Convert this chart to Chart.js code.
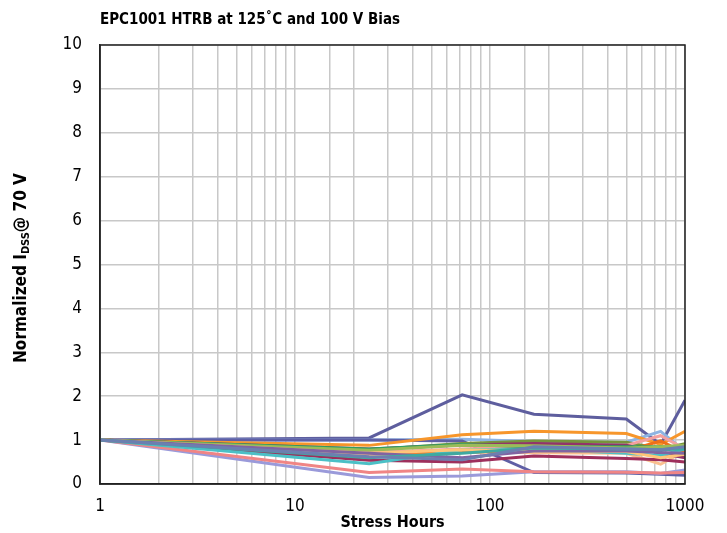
<!DOCTYPE html>
<html>
<head>
<meta charset="utf-8">
<script src="https://cdn.jsdelivr.net/npm/chart.js@4"></script>
<style>
  body { margin: 0; background: #fff; }
  #wrap { width: 727px; height: 533px; }
</style>
</head>
<body>
<div id="wrap"><canvas id="myChart" width="727" height="533"></canvas></div>
<script>
(() => {
    'use strict'

    const FONT = "'DejaVu Sans Condensed', 'Liberation Sans Narrow', sans-serif"

    // stress hours (x) and normalized IDSS per part
    const hours = [1, 24, 72, 168, 500, 750, 1000]
    const yTicks = [0, 1, 2, 3, 4, 5, 6, 7, 8, 9, 10]

    const part01 = [1, 1.05, 2.03, 1.59, 1.48, 0.90, 1.91]
    const part02 = [1, 1.00, 0.98, 0.26, 0.25, 0.22, 0.20]
    const part03 = [1, 0.88, 1.12, 1.20, 1.15, 0.90, 1.20]
    const part04 = [1, 0.78, 0.92, 0.98, 0.95, 0.80, 0.92]
    const part05 = [1, 0.80, 0.90, 0.85, 0.85, 0.85, 0.85]
    const part06 = [1, 0.80, 0.89, 0.92, 0.88, 0.70, 0.60]
    const part07 = [1, 0.54, 0.50, 0.64, 0.58, 0.55, 0.50]
    const part08 = [1, 0.73, 0.72, 0.78, 0.75, 0.98, 0.70]
    const part09 = [1, 0.66, 0.73, 0.71, 0.70, 0.45, 0.75]
    const part10 = [1, 0.46, 0.78, 0.80, 0.70, 0.65, 0.80]
    const part11 = [1, 0.26, 0.34, 0.28, 0.27, 0.25, 0.26]
    const part12 = [1, 0.15, 0.18, 0.28, 0.28, 0.24, 0.32]
    const part13 = [1, 0.77, 0.88, 0.87, 0.82, 0.85, 0.88]
    const part14 = [1, 0.70, 0.60, 0.75, 0.75, 0.72, 0.70]
    const part15 = [1, 0.70, 0.78, 0.76, 0.74, 0.60, 0.68]
    const part16 = [1, 0.62, 0.55, 0.85, 0.80, 0.78, 0.85]
    const part17 = [1, 0.60, 0.70, 0.82, 0.80, 0.78, 0.80]
    const part18 = [1, 1.00, 1.02, 0.97, 0.95, 1.20, 0.75]
    const part19 = [1, 0.72, 0.80, 0.85, 0.88, 1.10, 0.80]

    const parts = [
        [part16, '#6C7FB0'],
        [part17, '#3FA9A0'],
        [part14, '#8064A2'],
        [part15, '#FFC578'],
        [part13, '#9BBB59'],
        [part05, '#2E9E62'],
        [part10, '#4BC0C6'],
        [part07, '#9E2F5C'],
        [part06, '#93336A'],
        [part19, '#F4A0A0'],
        [part08, '#EE6F1A'],
        [part09, '#FAC08F'],
        [part04, '#77933C'],
        [part03, '#F7962B'],
        [part11, '#F08585'],
        [part12, '#9A9ADA'],
        [part02, '#5F5FA5'],
        [part18, '#8EB4E3'],
        [part01, '#5E5E9E']
    ]

    const datasets = parts.map(([vals, color]) => ({
        data: vals.map((v, i) => ({ x: hours[i], y: v })),
        borderColor: color,
        backgroundColor: color,
        borderWidth: 3,
        pointRadius: 0,
        tension: 0
    }))

    const decorations = {
        id: 'decorations',
        afterDraw(chart) {
            const { ctx, chartArea } = chart
            ctx.save()
            ctx.strokeStyle = '#222'
            ctx.lineWidth = 1.5
            ctx.strokeRect(chartArea.left, chartArea.top, chartArea.right - chartArea.left, chartArea.bottom - chartArea.top)

            ctx.fillStyle = '#000'
            ctx.textBaseline = 'middle'
            ctx.font = 'bold 15px ' + FONT
            ctx.textAlign = 'left'
            ctx.fillText('EPC1001 HTRB at 125˚C and 100 V Bias', 100, 20)

            // y axis title with subscript
            const big = 'bold 17px ' + FONT
            const small = 'bold 11px ' + FONT
            const pieces = [['Normalized I', big, 0], ['DSS', small, 4], ['@ 70 V', big, 0]]
            ctx.translate(22, 268)
            ctx.rotate(-Math.PI / 2)
            let total = 0
            pieces.forEach(([t, f]) => { ctx.font = f; total += ctx.measureText(t).width })
            let x = -total / 2
            pieces.forEach(([t, f, dy]) => {
                ctx.font = f
                ctx.fillText(t, x, dy)
                x += ctx.measureText(t).width
            })
            ctx.restore()
        }
    }

    const ctx = document.getElementById('myChart')
    // eslint-disable-next-line no-unused-vars
    const myChart = new Chart(ctx, {
        type: 'line',
        data: { datasets },
        plugins: [decorations],
        options: {
            responsive: false,
            animation: false,
            layout: { padding: { top: 45, right: 42, left: 0, bottom: 0 } },
            plugins: {
                legend: { display: false },
                tooltip: { enabled: false }
            },
            scales: {
                x: {
                    type: 'logarithmic',
                    min: 1,
                    max: 1000,
                    afterFit: s => { s.height = 49 },
                    grid: { color: '#c8c8c8', lineWidth: 1.5, drawTicks: false },
                    border: { color: '#222', width: 1.5 },
                    ticks: {
                        autoSkip: false,
                        maxRotation: 0,
                        padding: 12,
                        color: '#000',
                        font: { family: FONT, size: 17 },
                        callback: v => [1, 10, 100, 1000].includes(v) ? String(v) : ''
                    },
                    title: {
                        display: true,
                        text: 'Stress Hours',
                        color: '#000',
                        padding: { top: 0, bottom: 1 },
                        font: { family: FONT, size: 16, weight: 'bold' }
                    }
                },
                y: {
                    min: 0,
                    max: 10,
                    afterFit: s => { s.width = 100 },
                    afterBuildTicks: s => { s.ticks = yTicks.map(v => ({ value: v })) },
                    grid: { color: '#c8c8c8', lineWidth: 1.5, drawTicks: false },
                    border: { color: '#222', width: 1.5 },
                    ticks: {
                        padding: 18,
                        color: '#000',
                        font: { family: FONT, size: 17 }
                    }
                }
            }
        }
    })
})()
</script>
</body>
</html>
